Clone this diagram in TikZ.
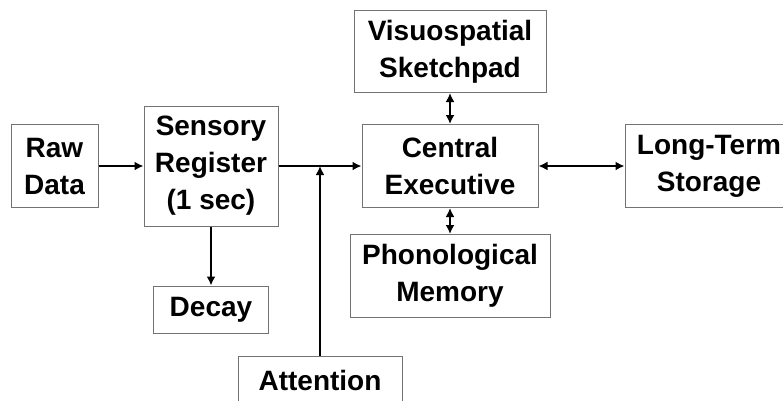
\documentclass[tikz,border=0pt]{standalone}
\usepackage{fontspec}
\setmainfont{Liberation Sans}
\usetikzlibrary{arrows.meta,calc,positioning}

\begin{document}
\begin{tikzpicture}[x=1pt, y=-1pt,
    font=\fontsize{28}{37}\selectfont\bfseries,
    box/.style={draw=black!55, line width=1pt, align=center, inner sep=0pt,
      minimum height=83pt},
    arrow/.style={-{Latex[length=9pt,width=9pt]}, line width=2.8pt},
    twoway/.style={{Latex[length=9pt,width=9pt]}-{Latex[length=9pt,width=9pt]}, line width=2.8pt}
  ]
    \useasboundingbox (0,0) rectangle (783,400);
    \node[box, minimum width=87pt] (rawdata) at (54.5,166) {Raw\\Data};
    \node[box, minimum width=134pt, minimum height=120pt, right=45pt of rawdata] (sensory) {Sensory\\Register\\(1 sec)};
    \node[box, minimum width=115pt, minimum height=47pt, below=59pt of sensory] (decay) {Decay};

    \node[box, minimum width=176pt, right=83pt of sensory] (central) {Central\\Executive};
    \node[box, minimum width=192pt, minimum height=82pt, above=31pt of central] (visuo) {Visuospatial\\Sketchpad};
    \node[box, minimum width=200pt, below=26pt of central] (phono) {Phonological\\Memory};
    \node[box, minimum width=168pt, right=86pt of central] (longterm) {Long-Term\\Storage};

    \coordinate (join) at ($(sensory.east)!0.5!(central.west)$);
    \node[box, minimum width=164pt, minimum height=47pt, below=190pt of join] (attention) {Attention};

    \draw[arrow] (rawdata) -- (sensory);
    \draw[arrow] (sensory) -- (central);
    \draw[arrow] (sensory) -- (decay);
    \draw[arrow] (attention.north) -- (join);
    \draw[twoway] (visuo) -- (central);
    \draw[twoway] (central) -- (phono);
    \draw[twoway] (central) -- (longterm);
  \end{tikzpicture}
\end{document}
